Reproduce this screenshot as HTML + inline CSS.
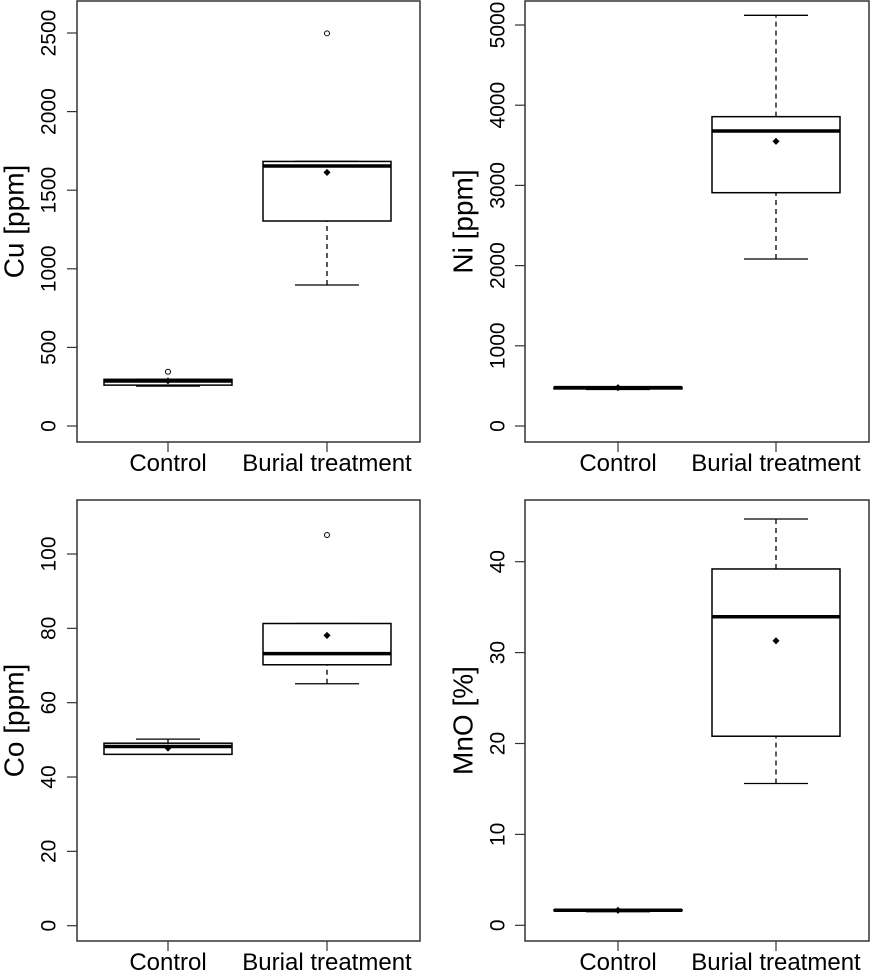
<!DOCTYPE html>
<html><head><meta charset="utf-8"><style>
html,body{margin:0;padding:0;background:#fff;}
svg{display:block;font-family:"Liberation Sans",Arial,sans-serif;}
</style></head><body>
<svg id="chart" width="870" height="971" viewBox="0 0 870 971" xmlns="http://www.w3.org/2000/svg"></svg>
<script>
const categories = ["Control", "Burial treatment"];
const panelTitles = ["Cu [ppm]", "Ni [ppm]", "Co [ppm]", "MnO [%]"];
const panelNames = ["cu", "ni", "co", "mno"];
// [lowerWhisker, q1, median, q3, upperWhisker]
const cuStats = [[254, 260, 286, 297, 297], [897, 1304, 1654, 1683, 1683]];
const niStats = [[455, 462, 478, 482, 490], [2082, 2909, 3678, 3857, 5121]];
const coStats = [[46.1, 46.1, 48.2, 49.1, 50.2], [65.1, 70.2, 73.2, 81.3, 81.3]];
const mnoStats = [[1.5, 1.6, 1.65, 1.7, 1.75], [15.6, 20.8, 33.95, 39.2, 44.7]];
const cuMeans = [287, 1613];
const niMeans = [478, 3550];
const coMeans = [47.8, 78.1];
const mnoMeans = [1.65, 31.3];
const cuOutliers = [[345], [2498]];
const niOutliers = [[], []];
const coOutliers = [[], [105.1]];
const mnoOutliers = [[], []];
const cuTicks = [0, 500, 1000, 1500, 2000, 2500];
const niTicks = [0, 1000, 2000, 3000, 4000, 5000];
const coTicks = [0, 20, 40, 60, 80, 100];
const mnoTicks = [0, 10, 20, 30, 40];
const cuDomain = [0, 2500];
const niDomain = [0, 5000];
const coDomain = [0, 100];
const mnoDomain = [0, 40];

const svg = document.getElementById('chart');
const NS = 'http://www.w3.org/2000/svg';
function mk(tag, attrs, parent) {
  const e = document.createElementNS(NS, tag);
  for (const k in attrs) e.setAttribute(k, attrs[k]);
  (parent || svg).appendChild(e);
  return e;
}

const layouts = [
  {x0: 77, x1: 420, y0: 1, y1: 442, p0: 426, p1: 33, cx: [168, 327], lab: 49, tit: 14},
  {x0: 525, x1: 869, y0: 1, y1: 442, p0: 426, p1: 25, cx: [618, 776], lab: 498, tit: 463},
  {x0: 77, x1: 420, y0: 500, y1: 941, p0: 925.7, p1: 554, cx: [168, 327], lab: 49, tit: 14},
  {x0: 525, x1: 869, y0: 500, y1: 941, p0: 925.3, p1: 561.7, cx: [618, 776], lab: 498, tit: 463}
];
const statsArr = [cuStats, niStats, coStats, mnoStats];
const meansArr = [cuMeans, niMeans, coMeans, mnoMeans];
const outArr = [cuOutliers, niOutliers, coOutliers, mnoOutliers];
const ticksArr = [cuTicks, niTicks, coTicks, mnoTicks];
const domArr = [cuDomain, niDomain, coDomain, mnoDomain];

for (let p = 0; p < 4; p++) {
  const L = layouts[p];
  const dom = domArr[p];
  const y = v => L.p0 + (v - dom[0]) / (dom[1] - dom[0]) * (L.p1 - L.p0);
  const g = mk('g', {});
  
  

  const frame = mk('rect', {x: L.x0, y: L.y0, width: L.x1 - L.x0, height: L.y1 - L.y0, fill: 'none', stroke: '#333', 'stroke-width': 1.5}, g);
  
  

  ticksArr[p].forEach(t => {
    const ty = y(t);
    const tk = mk('line', {x1: L.x0 - 10, x2: L.x0, y1: ty, y2: ty, stroke: '#333', 'stroke-width': 1.2}, g);
    
    
    const tl = mk('text', {x: L.lab, y: ty, 'font-size': 21, 'text-anchor': 'middle', 'dominant-baseline': 'central', fill: '#000', transform: `rotate(-90 ${L.lab} ${ty})`}, g);
    tl.textContent = String(t);
    
    
  });

  const ym = (L.y0 + L.y1) / 2;
  const yt = mk('text', {x: L.tit, y: ym, 'font-size': 28, 'text-anchor': 'middle', 'dominant-baseline': 'central', fill: '#000', transform: `rotate(-90 ${L.tit} ${ym})`}, g);
  yt.textContent = panelTitles[p];
  
  

  categories.forEach((c, i) => {
    const cx = L.cx[i];
    const xt = mk('line', {x1: cx, x2: cx, y1: L.y1, y2: L.y1 + 10, stroke: '#333', 'stroke-width': 1.2}, g);
    
    
    const xl = mk('text', {x: cx, y: L.y1 + 29, 'font-size': 24, 'text-anchor': 'middle', fill: '#000'}, g);
    xl.textContent = c;
    
    

    const s = statsArr[p][i];
    const hw = 64, cw = 32;
    const bg = mk('g', {}, g);
    
    
    mk('line', {x1: cx, x2: cx, y1: y(s[3]), y2: y(s[4]), stroke: '#000', 'stroke-width': 1.3, 'stroke-dasharray': '5,4'}, bg);
    mk('line', {x1: cx, x2: cx, y1: y(s[0]), y2: y(s[1]), stroke: '#000', 'stroke-width': 1.3, 'stroke-dasharray': '5,4'}, bg);
    mk('line', {x1: cx - cw, x2: cx + cw, y1: y(s[4]), y2: y(s[4]), stroke: '#000', 'stroke-width': 1.3}, bg);
    mk('line', {x1: cx - cw, x2: cx + cw, y1: y(s[0]), y2: y(s[0]), stroke: '#000', 'stroke-width': 1.3}, bg);
    mk('rect', {x: cx - hw, y: y(s[3]), width: 2 * hw, height: Math.max(0.5, y(s[1]) - y(s[3])), fill: '#fff', stroke: '#000', 'stroke-width': 1.5}, bg);
    mk('line', {x1: cx - hw, x2: cx + hw, y1: y(s[2]), y2: y(s[2]), stroke: '#000', 'stroke-width': 3.5}, bg);
    const mp = mk('rect', {x: cx - 2.5, y: y(meansArr[p][i]) - 2.5, width: 5, height: 5, fill: '#000', transform: `rotate(45 ${cx} ${y(meansArr[p][i])})`}, bg);
    
    
    outArr[p][i].forEach(o => {
      const oc = mk('circle', {cx: cx, cy: y(o), r: 2.5, fill: 'none', stroke: '#000', 'stroke-width': 1}, bg);
      
      
    });
  });
}
</script>
</body></html>
